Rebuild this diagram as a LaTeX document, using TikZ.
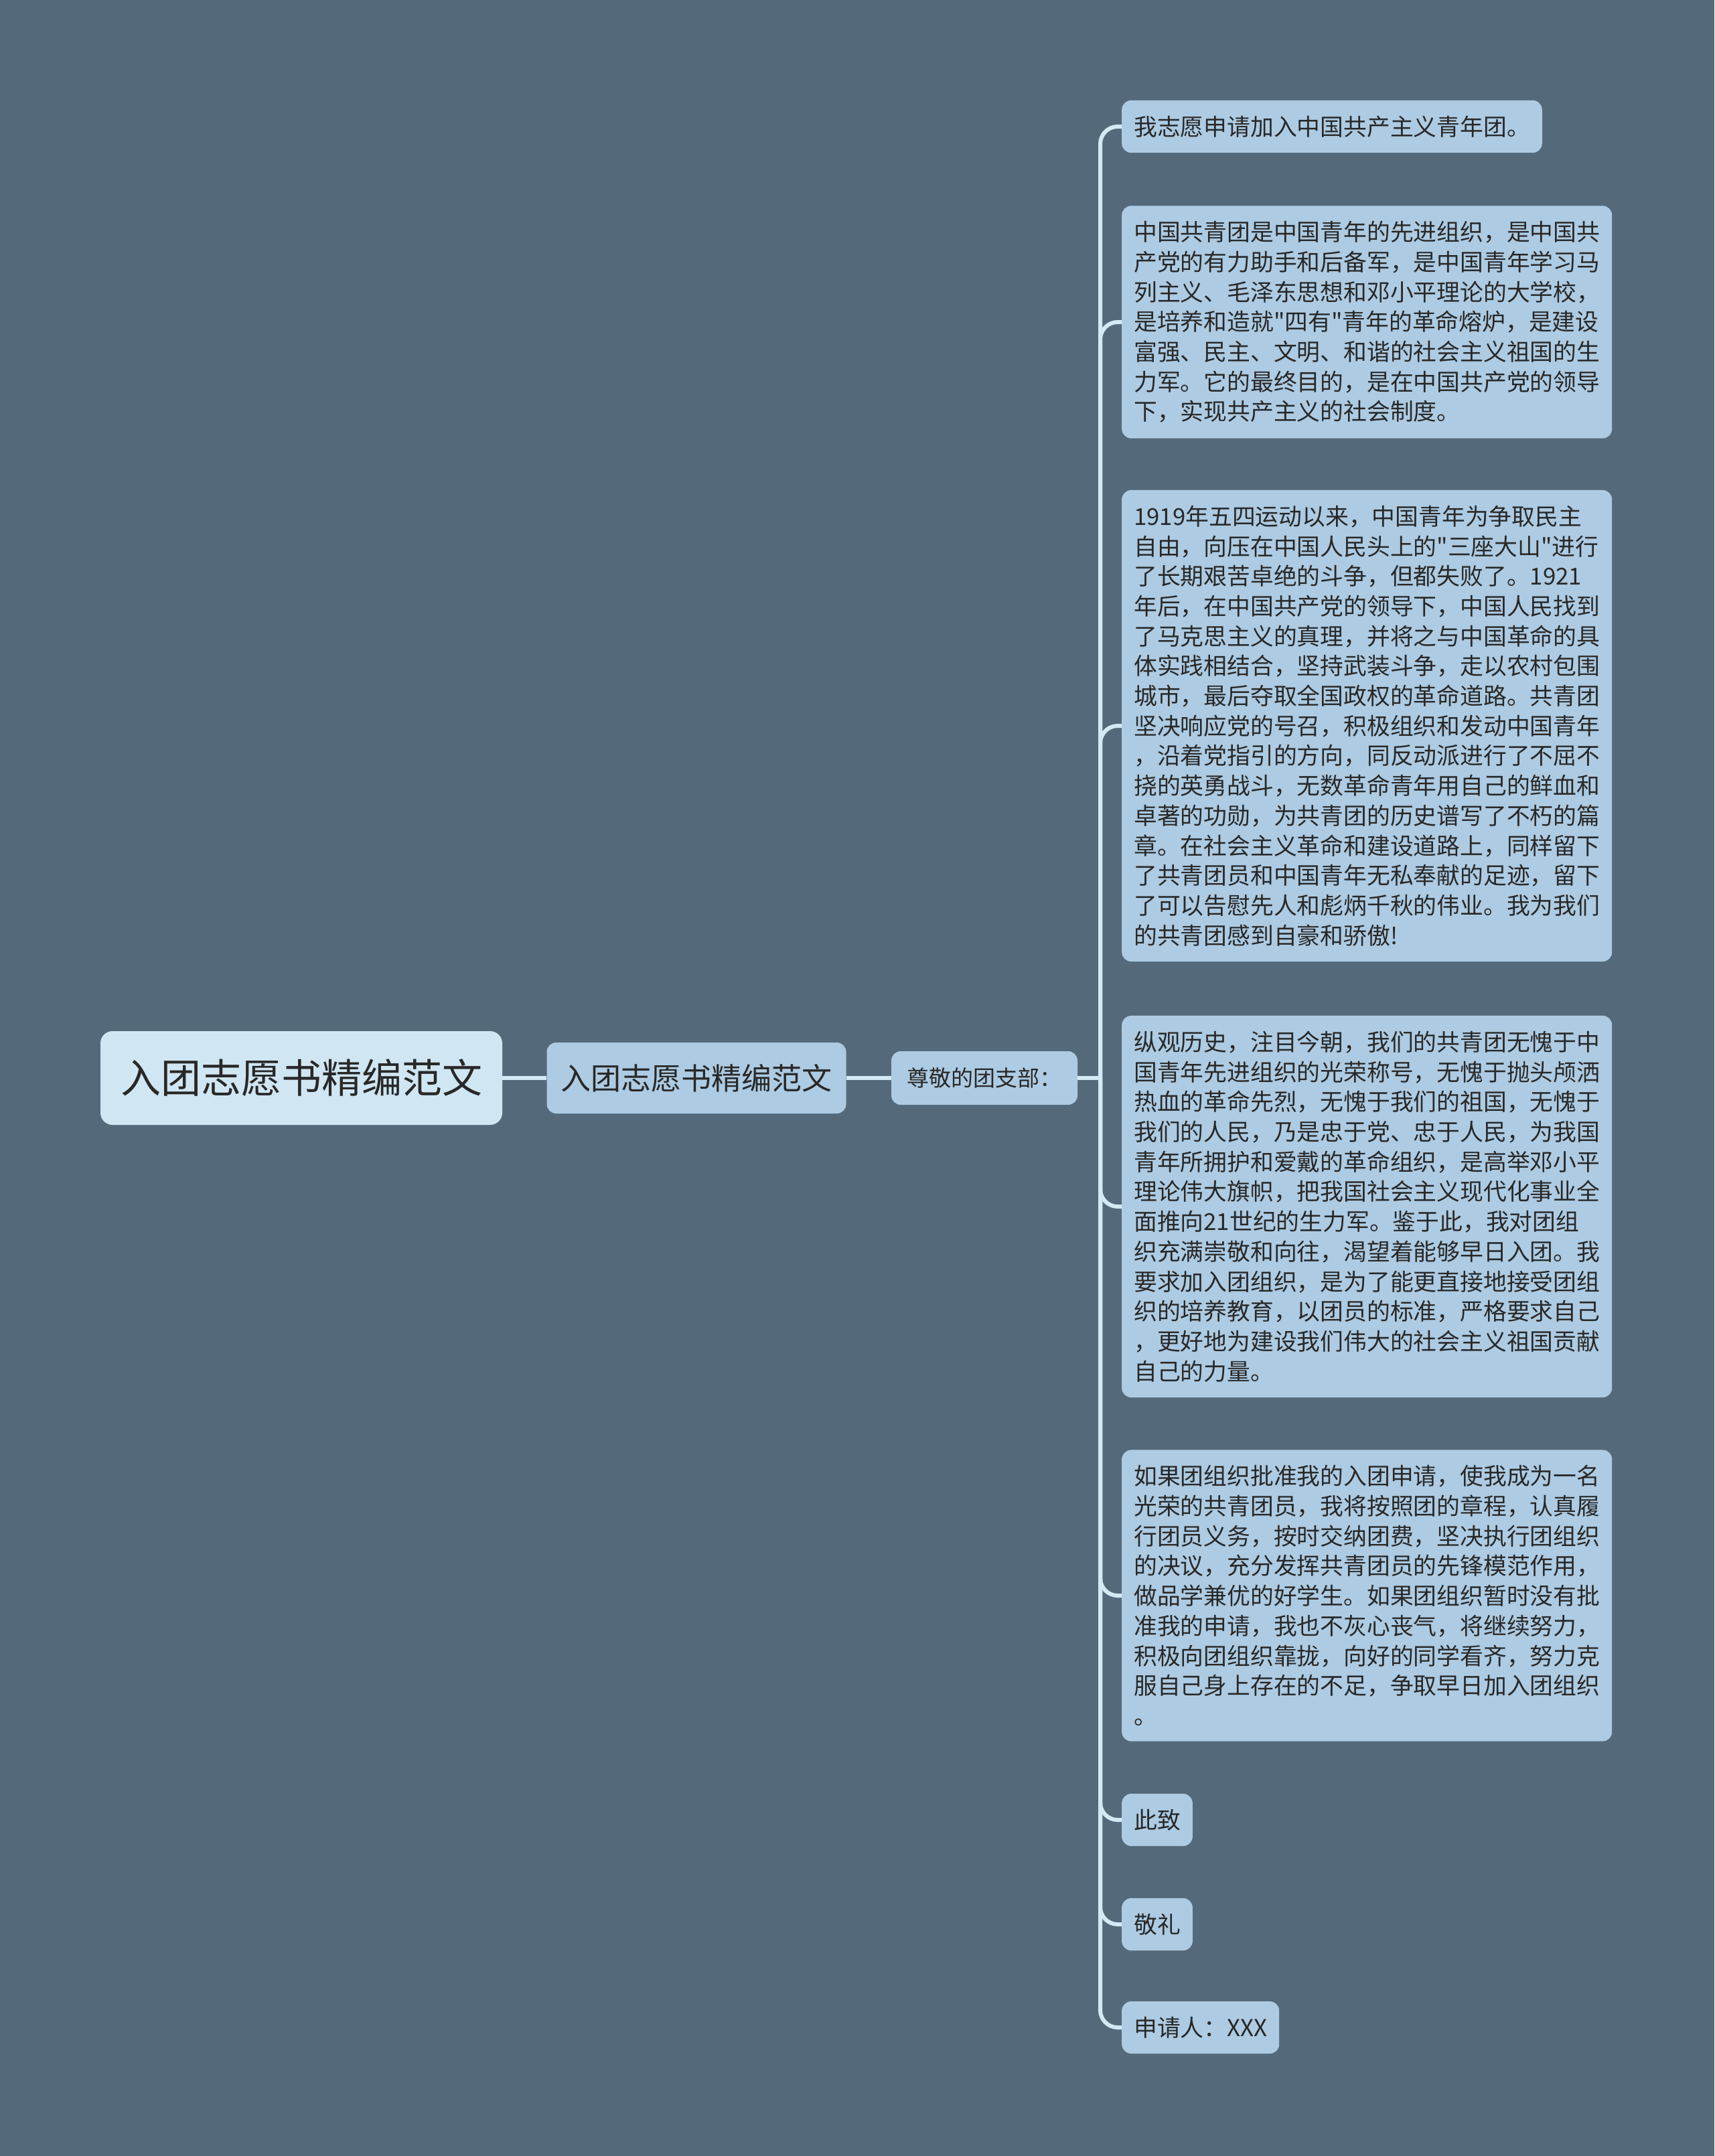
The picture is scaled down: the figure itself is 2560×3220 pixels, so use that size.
\documentclass[tikz,border=0pt]{standalone}
\usepackage{fontspec}
\usetikzlibrary{positioning}
\newfontfamily\cjkfont{Noto Sans CJK SC}
\definecolor{bgslate}{RGB}{84,106,122}
\definecolor{rootfill}{RGB}{208,230,242}
\definecolor{leaffill}{RGB}{173,203,226}
\definecolor{linkblue}{RGB}{210,234,244}
\definecolor{inkgrey}{RGB}{40,40,40}

\begin{document}
\begin{tikzpicture}[x=1pt, y=-1pt,
    box/.style={rectangle, rounded corners=14pt, fill=leaffill, text=inkgrey},
    rootbox/.style={box, fill=rootfill, rounded corners=18pt, inner sep=0pt,
        minimum width=600pt, minimum height=140pt, font=\cjkfont\fontsize{60}{72}\selectfont},
    topicbox/.style={box, inner sep=0pt, minimum width=447pt, minimum height=106pt,
        font=\cjkfont\fontsize{45}{54}\selectfont},
    salutebox/.style={box, inner sep=0pt, minimum width=278pt, minimum height=80pt,
        font=\cjkfont\fontsize{33}{40}\selectfont},
    leafbox/.style={box, anchor=west, align=left, inner xsep=18pt, inner ysep=23pt,
        font=\cjkfont\fontsize{34.8}{44.7}\selectfont},
    link/.style={draw=linkblue, line width=6pt},
    branch/.style={link, rounded corners=26pt}]

    % page and background
    \useasboundingbox (0,0) rectangle (2560,3220);
    \fill[bgslate] (0,0) rectangle (2560,3220);

    % main chain
    \node[rootbox] (root) at (450,1610) {入团志愿书精编范文};
    \node[topicbox] (topic) at (1040,1610) {入团志愿书精编范文};
    \node[salutebox] (salute) at (1470,1610) {尊敬的团支部：};

    % letter paragraphs
    \node[leafbox] (l1) at (1675,189) {我志愿申请加入中国共产主义青年团。};
    \node[leafbox] (l2) at (1675,481) {中国共青团是中国青年的先进组织，是中国共\\
        产党的有力助手和后备军，是中国青年学习马\\
        列主义、毛泽东思想和邓小平理论的大学校，\\
        是培养和造就"四有"青年的革命熔炉，是建设\\
        富强、民主、文明、和谐的社会主义祖国的生\\
        力军。它的最终目的，是在中国共产党的领导\\
        下，实现共产主义的社会制度。};
    \node[leafbox] (l3) at (1675,1084) {1919年五四运动以来，中国青年为争取民主\\
        自由，向压在中国人民头上的"三座大山"进行\\
        了长期艰苦卓绝的斗争，但都失败了。1921\\
        年后，在中国共产党的领导下，中国人民找到\\
        了马克思主义的真理，并将之与中国革命的具\\
        体实践相结合，坚持武装斗争，走以农村包围\\
        城市，最后夺取全国政权的革命道路。共青团\\
        坚决响应党的号召，积极组织和发动中国青年\\
        ，沿着党指引的方向，同反动派进行了不屈不\\
        挠的英勇战斗，无数革命青年用自己的鲜血和\\
        卓著的功勋，为共青团的历史谱写了不朽的篇\\
        章。在社会主义革命和建设道路上，同样留下\\
        了共青团员和中国青年无私奉献的足迹，留下\\
        了可以告慰先人和彪炳千秋的伟业。我为我们\\
        的共青团感到自豪和骄傲!};
    \node[leafbox] (l4) at (1675,1802) {纵观历史，注目今朝，我们的共青团无愧于中\\
        国青年先进组织的光荣称号，无愧于抛头颅洒\\
        热血的革命先烈，无愧于我们的祖国，无愧于\\
        我们的人民，乃是忠于党、忠于人民，为我国\\
        青年所拥护和爱戴的革命组织，是高举邓小平\\
        理论伟大旗帜，把我国社会主义现代化事业全\\
        面推向21世纪的生力军。鉴于此，我对团组\\
        织充满崇敬和向往，渴望着能够早日入团。我\\
        要求加入团组织，是为了能更直接地接受团组\\
        织的培养教育，以团员的标准，严格要求自己\\
        ，更好地为建设我们伟大的社会主义祖国贡献\\
        自己的力量。};
    \node[leafbox] (l5) at (1675,2383) {如果团组织批准我的入团申请，使我成为一名\\
        光荣的共青团员，我将按照团的章程，认真履\\
        行团员义务，按时交纳团费，坚决执行团组织\\
        的决议，充分发挥共青团员的先锋模范作用，\\
        做品学兼优的好学生。如果团组织暂时没有批\\
        准我的申请，我也不灰心丧气，将继续努力，\\
        积极向团组织靠拢，向好的同学看齐，努力克\\
        服自己身上存在的不足，争取早日加入团组织\\
        。};
    \node[leafbox] (l6) at (1675,2718) {此致};
    \node[leafbox] (l7) at (1675,2874) {敬礼};
    \node[leafbox] (l8) at (1675,3028) {申请人：XXX};

    % connectors
    \coordinate (fork) at (1643,1610);
    \draw[link] (root.east) -- (topic.west);
    \draw[link] (topic.east) -- (salute.west);
    \draw[link] (salute.east) -- (fork);
    \foreach \i in {1,...,8}
        \draw[branch] (fork) |- (l\i.west);
\end{tikzpicture}
\end{document}
